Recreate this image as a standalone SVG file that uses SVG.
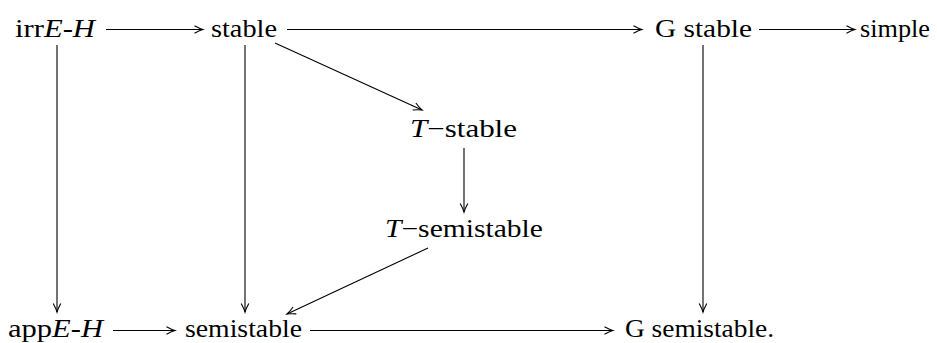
<svg xmlns="http://www.w3.org/2000/svg" width="937" height="343" viewBox="0 0 937 343">
<style>
.t{font-family:"Liberation Serif","Times New Roman",serif;font-size:25px;fill:#000}
.i{font-style:italic}
.c line{stroke:#000;stroke-width:1.1;fill:none;marker-end:url(#ah)}
</style>
<defs>
<marker id="ah" markerWidth="12" markerHeight="10" refX="0" refY="0" viewBox="-10 -5 12 10" orient="auto" markerUnits="userSpaceOnUse">
<path d="M-8.5,-3.8 Q-3,-0.8 0,0 Q-3,0.8 -8.5,3.8" fill="none" stroke="#000" stroke-width="1.1"/>
</marker>
</defs>
<rect width="937" height="343" fill="#fff"/>
<g class="t">
<g id="irrEH"><text x="15" y="37" textLength="80" lengthAdjust="spacingAndGlyphs">irr<tspan class="i">E</tspan>-<tspan class="i">H</tspan></text></g>
<g id="stable"><text x="211" y="37" textLength="66" lengthAdjust="spacingAndGlyphs">stable</text></g>
<g id="Gstable"><text x="655" y="37" textLength="97" lengthAdjust="spacingAndGlyphs">G stable</text></g>
<g id="simple"><text x="860" y="37" textLength="70" lengthAdjust="spacingAndGlyphs">simple</text></g>
<g id="Tstable"><text x="410" y="137" textLength="107" lengthAdjust="spacingAndGlyphs"><tspan class="i">T</tspan>−stable</text></g>
<g id="Tsemistable"><text x="385" y="237" textLength="158" lengthAdjust="spacingAndGlyphs"><tspan class="i">T</tspan>−semistable</text></g>
<g id="appEH"><text x="8" y="337" textLength="95" lengthAdjust="spacingAndGlyphs">app<tspan class="i">E</tspan>-<tspan class="i">H</tspan></text></g>
<g id="semistable"><text x="185" y="337" textLength="117" lengthAdjust="spacingAndGlyphs">semistable</text></g>
<g id="Gsemistable"><text x="625" y="337" textLength="149" lengthAdjust="spacingAndGlyphs">G semistable.</text></g>
</g>
<g class="c" id="connectors">
<line x1="106" y1="29.5" x2="203" y2="29.5"/>
<line x1="287" y1="29.5" x2="642" y2="29.5"/>
<line x1="759" y1="29.5" x2="855" y2="29.5"/>
<line x1="113" y1="330.5" x2="175" y2="330.5"/>
<line x1="310" y1="330.5" x2="613" y2="330.5"/>
<line x1="57" y1="45" x2="57" y2="312"/>
<line x1="245" y1="45" x2="245" y2="312"/>
<line x1="703" y1="45" x2="703" y2="312"/>
<line x1="464" y1="148" x2="464" y2="212"/>
<line x1="275" y1="43" x2="422" y2="110"/>
<line x1="428" y1="248" x2="287" y2="314"/>
</g>
</svg>
